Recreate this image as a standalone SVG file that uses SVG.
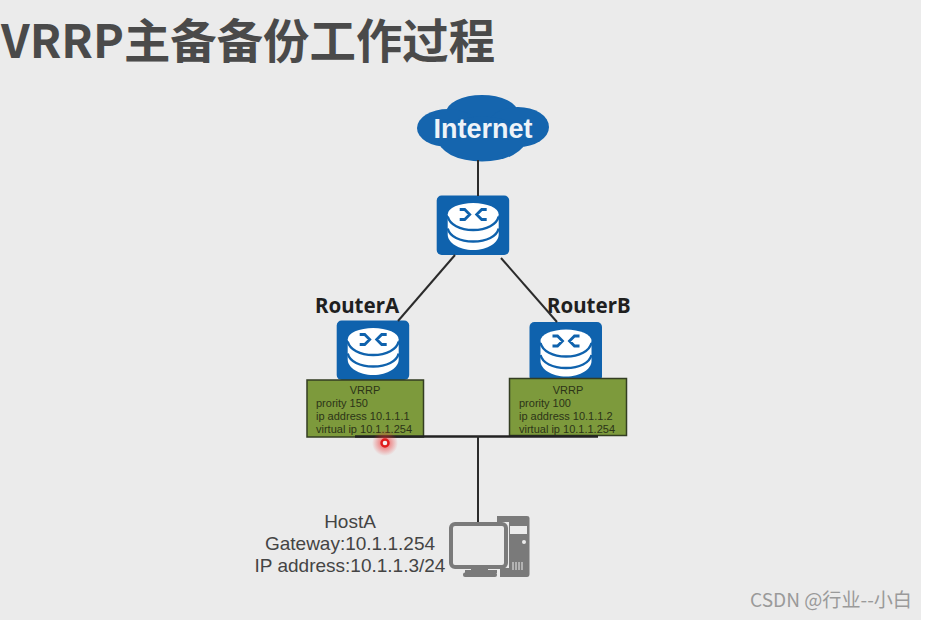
<svg xmlns="http://www.w3.org/2000/svg" width="926" height="620" viewBox="0 0 926 620">
<style>
.sans{font-family:"Noto Sans","Open Sans","Liberation Sans",sans-serif}
.arial{font-family:"Liberation Sans",Arial,sans-serif}
.cjk{font-family:"Noto Sans CJK SC","Noto Sans",sans-serif}
.link{stroke:#2b2b2b;stroke-width:2;fill:none}
.bus{stroke:#222;stroke-width:2.600;fill:none}
.box{fill:#7d9a3c;stroke:#333d22;stroke-width:1.500}
.info{font-size:11px;fill:#2c3418}
.name{font-size:20.500px;font-weight:700;fill:#1f1f1f}
.host{font-size:19px;fill:#444;text-anchor:middle}
</style>
<defs>
<radialGradient id="glow"><stop offset="0" stop-color="#f03030" stop-opacity=".8"/><stop offset=".5" stop-color="#f03030" stop-opacity=".4"/><stop offset="1" stop-color="#f03030" stop-opacity="0"/></radialGradient>
<g id="router">
<rect width="72.500" height="59.500" rx="5" fill="#0f62ad"/>
<path d="M11 23V39C11 47 22 54.500 36.500 54.500S62 47 62 39V23Z" fill="#fff"/>
<ellipse cx="36.500" cy="19" rx="25.500" ry="11.500" fill="#fff"/>
<path d="M11 21C13 29 23 34.500 36.500 34.500S60 29 62 21M11 33C13 41 23 46 36.500 46S60 41 62 33" fill="none" stroke="#0f62ad" stroke-width="2.400"/>
<path d="M23 14H28L33 19 28 24H23M50 14H45L40 19 45 24H50" fill="none" stroke="#0f62ad" stroke-width="2.800"/>
</g>
</defs>
<rect width="926" height="620" fill="#fff"/>
<rect width="921" height="620" fill="#ebebeb"/>
<text class="cjk" x="1" y="58" font-size="46.400" font-weight="700" fill="#4a4a4a">VRRP主备备份工作过程</text>
<g id="internet" fill="#1565ae">
<ellipse cx="482" cy="113" rx="36" ry="18"/>
<ellipse cx="448" cy="128" rx="31" ry="19"/>
<ellipse cx="518" cy="127" rx="31" ry="20"/>
<ellipse cx="482" cy="139" rx="44" ry="22.500"/>
<text class="arial" x="483" y="138" font-size="27" font-weight="700" fill="#eef3f8" text-anchor="middle">Internet</text>
</g>
<g id="core-router"><use href="#router" x="436.700" y="195.500"/></g>
<g id="routerA">
<use href="#router" x="336.700" y="320.500"/>
<text class="sans name" x="315" y="313">RouterA</text>
<rect class="box" x="307" y="380" width="116.500" height="57"/>
<text class="arial info" x="365" y="394" text-anchor="middle">VRRP</text>
<text class="arial info" x="316" y="407">prority 150</text>
<text class="arial info" x="316" y="420">ip address 10.1.1.1</text>
<text class="arial info" x="316" y="433">virtual ip 10.1.1.254</text>
</g>
<g id="routerB">
<use href="#router" x="529.500" y="322"/>
<text class="sans name" x="547" y="313">RouterB</text>
<rect class="box" x="509.500" y="378.500" width="117" height="57"/>
<text class="arial info" x="568" y="393.500" text-anchor="middle">VRRP</text>
<text class="arial info" x="519" y="406.500">prority 100</text>
<text class="arial info" x="519" y="419.500">ip address 10.1.1.2</text>
<text class="arial info" x="519" y="432.500">virtual ip 10.1.1.254</text>
</g>
<g id="hostA">
<text class="arial host" x="350" y="528">HostA</text>
<text class="arial host" x="350" y="550">Gateway:10.1.1.254</text>
<text class="arial host" x="350" y="572">IP address:10.1.1.3/24</text>
<path d="M497 516H527Q529.500 516 529.500 518V574Q529.500 577 527 577H500V568H509V522H497Z" fill="#7a7a7a"/>
<rect x="510" y="526" width="17" height="8" fill="#ebebeb"/>
<circle cx="524" cy="542" r="2" fill="#ebebeb"/>
<path d="M513 570V562M516 570V562M519 570V562M522 570V562" stroke="#ebebeb" stroke-width="1"/>
<rect x="451" y="524" width="55" height="43" rx="4" fill="#ebebeb" stroke="#7a7a7a" stroke-width="4"/>
<path d="M471 567H488V570H497V573H465V570H471Z" fill="#7a7a7a"/>
<rect x="463" y="572.500" width="34" height="4.500" rx="2" fill="#7a7a7a"/>
</g>
<g id="connectors">
<path class="link" d="M478 160V196"/>
<path class="link" d="M455 255L398 321"/>
<path class="link" d="M501 258L557 322"/>
<path class="bus" d="M355 436.500H598"/>
<path class="link" d="M478 436V522"/>
</g>
<g id="pointer">
<circle cx="385" cy="443" r="13" fill="url(#glow)"/>
<circle cx="385" cy="443" r="3.500" fill="#f4f0f0" stroke="#e01c1c" stroke-width="2.400"/>
</g>
<text class="cjk" x="750" y="607" font-size="19.100" fill="#9a9a9a">CSDN @行业--小白</text>
</svg>
